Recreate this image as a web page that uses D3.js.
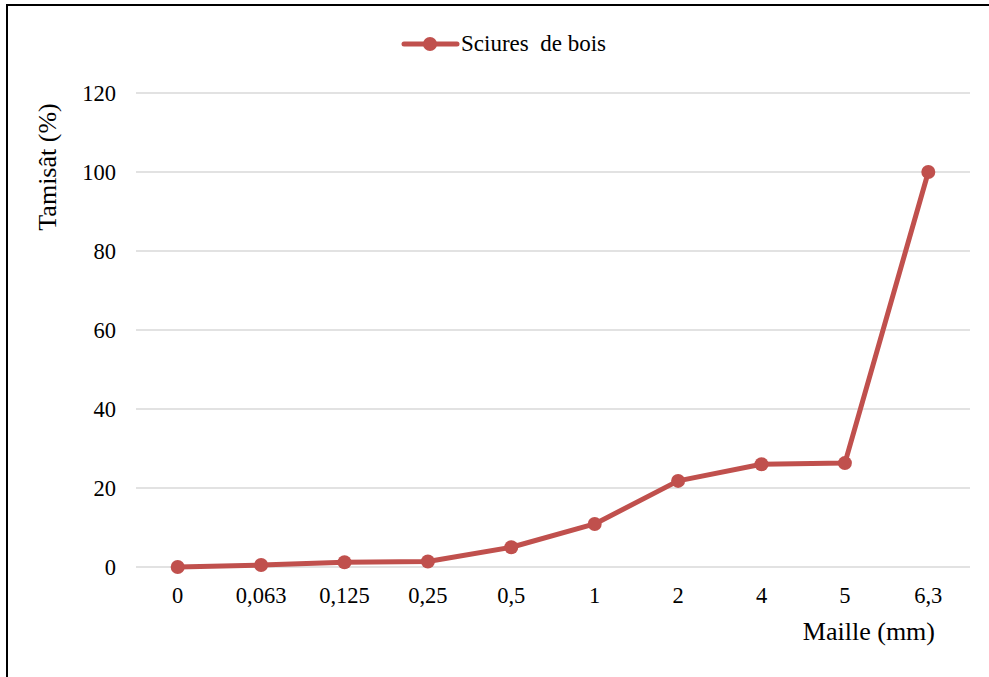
<!DOCTYPE html>
<html><head><meta charset="utf-8">
<script src="https://cdn.jsdelivr.net/npm/d3@7"></script>
<style>html,body{margin:0;padding:0;background:#fff;}svg{display:block;}</style>
</head><body>
<svg id="chart" width="989" height="677"></svg>
<script>
const categories = ["0","0,063","0,125","0,25","0,5","1","2","4","5","6,3"];
const values = [0, 0.5, 1.2, 1.4, 5.0, 10.9, 21.8, 26.0, 26.3, 100];
const yTicks = [0,20,40,60,80,100,120];
const seriesName = "Sciures  de bois";
const yTitle = "Tamisât (%)";
const xTitle = "Maille (mm)";

const svg = d3.select("#chart");
const font = "'Liberation Serif','Times New Roman',serif";
const color = "#C0504D";

// frame
svg.append("line").attr("x1",7).attr("x2",989).attr("y1",5).attr("y2",5).attr("stroke","#000").attr("stroke-width",2);
svg.append("line").attr("x1",7).attr("x2",7).attr("y1",4).attr("y2",677).attr("stroke","#000").attr("stroke-width",2);

const x = d3.scaleBand().domain(categories).range([136,970]);
const y = d3.scaleLinear().domain([0,120]).range([567,93]);

// gridlines
svg.append("g").selectAll("line").data(yTicks).join("line")
  .attr("x1",136).attr("x2",970)
  .attr("y1",d=>y(d)).attr("y2",d=>y(d))
  .attr("stroke","#d9d9d9").attr("stroke-width",1.5);

// y axis labels
const yAxis = svg.append("g").attr("transform","translate(116,0)")
  .call(d3.axisLeft(y).tickValues(yTicks).tickSize(0).tickPadding(0));
yAxis.select(".domain").remove();
yAxis.selectAll("text").attr("font-family",font).attr("font-size",22.5).attr("fill","#000").attr("dy","0.33em");

// x axis labels
const xAxis = svg.append("g").attr("transform","translate(0,586)")
  .call(d3.axisBottom(x).tickSize(0).tickPadding(0));
xAxis.select(".domain").remove();
xAxis.selectAll("text").attr("font-family",font).attr("font-size",22.5).attr("fill","#000").attr("dy","0.75em");

// titles
svg.append("text").attr("transform","translate(56,167) rotate(-90)")
  .attr("text-anchor","middle").attr("font-family",font).attr("font-size",26).text(yTitle);
svg.append("text").attr("x",935).attr("y",640).attr("text-anchor","end")
  .attr("font-family",font).attr("font-size",26).text(xTitle);

// line
const pts = categories.map((c,i)=>[x(c)+x.bandwidth()/2, y(values[i])]);
svg.append("path").attr("d",d3.line()(pts)).attr("fill","none")
  .attr("stroke",color).attr("stroke-width",5).attr("stroke-linejoin","round").attr("stroke-linecap","round");
svg.append("g").selectAll("circle").data(pts).join("circle")
  .attr("cx",d=>d[0]).attr("cy",d=>d[1]).attr("r",7).attr("fill",color);

// legend
const lg = svg.append("g");
lg.append("line").attr("x1",404).attr("x2",457).attr("y1",44).attr("y2",44)
  .attr("stroke",color).attr("stroke-width",5).attr("stroke-linecap","round");
lg.append("circle").attr("cx",430).attr("cy",44).attr("r",7).attr("fill",color);
lg.append("text").attr("x",461).attr("y",51).attr("font-family",font).attr("font-size",23)
  .attr("xml:space","preserve").style("white-space","pre").text(seriesName);
</script>
</body></html>
